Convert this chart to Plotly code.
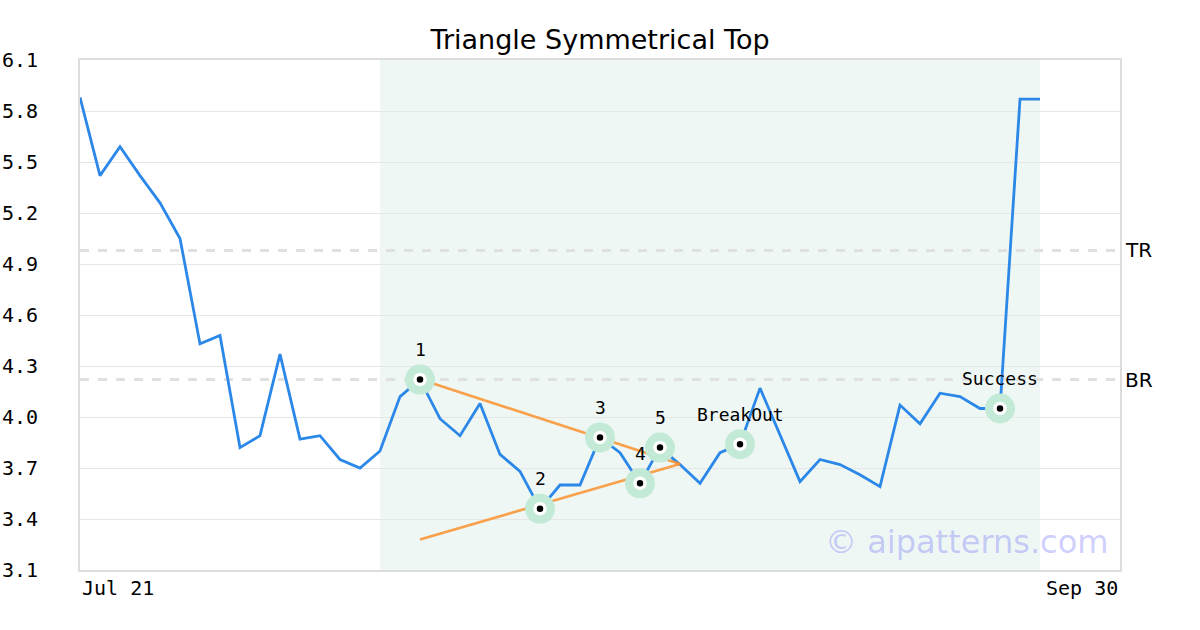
import plotly.graph_objects as go

# ---------------- data ----------------
prices = [5.88, 5.42, 5.59, 5.42, 5.26, 5.05, 4.43, 4.48, 3.82, 3.89,
          4.37, 3.87, 3.89, 3.75, 3.70, 3.80, 4.12, 4.22, 3.99, 3.89,
          4.08, 3.78, 3.68, 3.46, 3.60, 3.60, 3.88, 3.79, 3.61, 3.82,
          3.72, 3.61, 3.79, 3.84, 4.17, 3.89, 3.62, 3.75, 3.72, 3.66,
          3.59, 4.07, 3.96, 4.14, 4.12, 4.05, 4.05, 5.87, 5.87]
x_idx = list(range(len(prices)))

pattern_x = [17, 23, 26, 28, 29]
pattern_labels = ["1", "2", "3", "4", "5"]
event_x = [33, 46]
event_labels = ["BreakOut", "Success"]

upper_line_x = [17, 30]
upper_line_y = [4.222, 3.724]
lower_line_x = [17, 30]
lower_line_y = [3.28, 3.724]

tr_level = 4.98
br_level = 4.22
shade_range = [15, 48]

x_range = [0, 52]
x_tick_labels = ["Jul 21", "Sep 30"]
y_ticks = [3.1, 3.4, 3.7, 4.0, 4.3, 4.6, 4.9, 5.2, 5.5, 5.8, 6.1]
y_range = [3.1, 6.1]

title = "Triangle Symmetrical Top"
watermark = "© aipatterns.com"

# ---------------- styles ----------------
MONO = "DejaVu Sans Mono"
SANS = "DejaVu Sans"
BLUE = "#2b88e8"
ORANGE = "rgba(250,145,45,0.85)"
HALO = "#c2ead6"

W, H = 1200, 630
ML, MR, MT, MB = 80, 80, 60, 60

fig = go.Figure()

# price line
fig.add_trace(go.Scatter(x=x_idx, y=prices, mode="lines",
                         line=dict(color=BLUE, width=2.8), hoverinfo="skip"))

# triangle lines
fig.add_trace(go.Scatter(x=upper_line_x, y=upper_line_y, mode="lines",
                         line=dict(color=ORANGE, width=2.6), hoverinfo="skip"))
fig.add_trace(go.Scatter(x=lower_line_x, y=lower_line_y, mode="lines",
                         line=dict(color=ORANGE, width=2.6), hoverinfo="skip"))

all_mx = pattern_x + event_x
all_my = [prices[i] for i in all_mx]
all_lbl = pattern_labels + event_labels

# halos
fig.add_trace(go.Scatter(x=all_mx, y=all_my, mode="markers",
                         marker=dict(size=30, color=HALO, line=dict(width=0)),
                         hoverinfo="skip"))
# dots with white ring
fig.add_trace(go.Scatter(x=all_mx, y=all_my, mode="markers",
                         marker=dict(size=10, color="black",
                                     line=dict(width=3.5, color="white")),
                         hoverinfo="skip"))

# labels over points
for xv, yv, t in zip(all_mx, all_my, all_lbl):
    fig.add_annotation(x=xv, y=yv, text=t, showarrow=False, yshift=30,
                       font=dict(family=MONO, size=18, color="black"))

# shaded pattern region
fig.add_shape(type="rect", xref="x", yref="paper", x0=shade_range[0], x1=shade_range[1],
              y0=0, y1=1, fillcolor="#eff7f4", line=dict(width=0), layer="below")

# TR / BR dashed levels
for lvl, name in [(tr_level, "TR"), (br_level, "BR")]:
    fig.add_shape(type="line", xref="paper", yref="y", x0=0, x1=1, y0=lvl, y1=lvl,
                  line=dict(color="#e0e0e0", width=3, dash="dash"), layer="below")
    fig.add_annotation(xref="paper", yref="y", x=1, y=lvl, text=name, showarrow=False,
                       xanchor="left", xshift=3,
                       font=dict(family=SANS, size=20, color="black"))

# x tick labels at the axis ends
fig.add_annotation(xref="paper", yref="paper", x=0, y=0, text=x_tick_labels[0],
                   showarrow=False, xanchor="left", yanchor="top", yshift=-4,
                   font=dict(family=MONO, size=20, color="black"))
fig.add_annotation(xref="paper", yref="paper", x=1, y=0, text=x_tick_labels[1],
                   showarrow=False, xanchor="right", yanchor="top", yshift=-4,
                   font=dict(family=MONO, size=20, color="black"))

# watermark
fig.add_annotation(xref="paper", yref="paper", x=0.99, y=0.055, text=watermark,
                   showarrow=False, xanchor="right", yanchor="middle",
                   font=dict(family=SANS, size=32, color="rgba(90,90,250,0.3)"))

fig.update_layout(
    width=W, height=H,
    margin=dict(l=ML, r=MR, t=MT, b=MB, autoexpand=False),
    paper_bgcolor="white", plot_bgcolor="white",
    showlegend=False,
    title=dict(text=title, x=0.5, xanchor="center",
               y=1 - 40 / H, yanchor="middle",
               font=dict(family=SANS, size=27, color="black")),
    xaxis=dict(range=x_range, showgrid=False, zeroline=False, showticklabels=False,
               ticks="", showline=True, linecolor="#dddddd", linewidth=2, mirror=True,
               automargin=False),
    yaxis=dict(range=y_range, tickvals=y_ticks, ticktext=[f"{v:.1f}" for v in y_ticks],
               showgrid=True, gridcolor="#e6e6e6", gridwidth=1, zeroline=False,
               showline=True, linecolor="#dddddd", linewidth=2, mirror=True,
               ticks="", ticklabelstandoff=36, automargin=False,
               tickfont=dict(family=MONO, size=20, color="black")),
)

fig.write_html("out.html", config={"displayModeBar": False, "staticPlot": True},
               post_script="document.body.style.margin='0';document.body.style.overflow='hidden';")
